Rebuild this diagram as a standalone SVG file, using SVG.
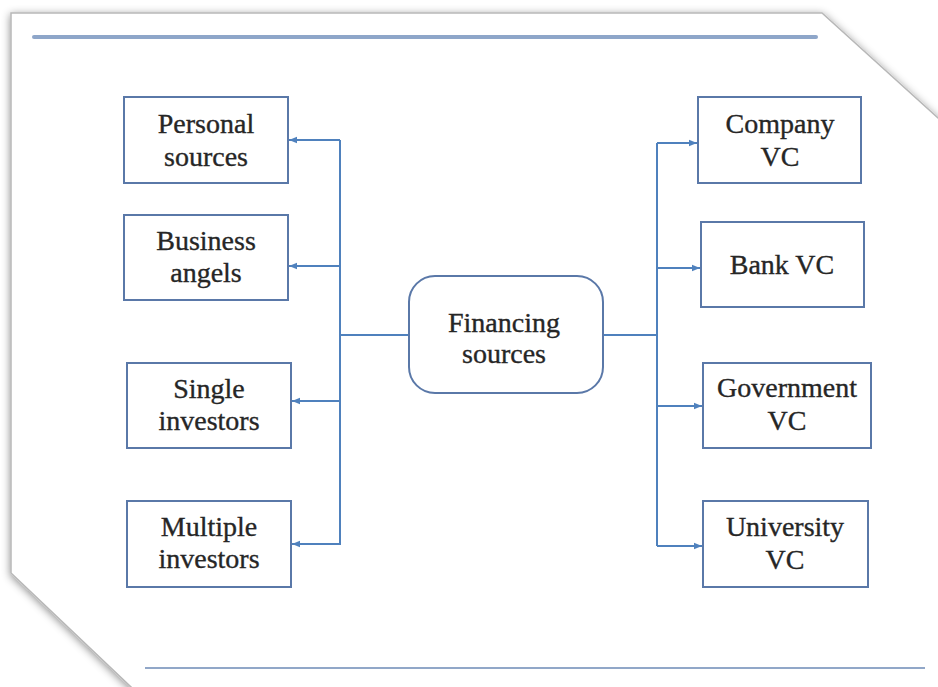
<svg xmlns="http://www.w3.org/2000/svg" width="938" height="687" viewBox="0 0 938 687">
<defs>
<filter id="sh" x="-10%" y="-10%" width="120%" height="120%">
<feDropShadow dx="0" dy="2" stdDeviation="4" flood-color="#000" flood-opacity="0.45"/>
</filter>
<marker id="arr" viewBox="0 0 10 10" refX="10" refY="5" markerWidth="8" markerHeight="8" markerUnits="userSpaceOnUse" orient="auto">
<path d="M0,1 L10,5 L0,9 z" fill="#4f81bd"/>
</marker>
<style>
.box{fill:#fff;stroke:#5a78a8;stroke-width:2}
.t{font-family:'Liberation Serif','Times New Roman',serif;font-size:28px;fill:#262626;stroke:#262626;stroke-width:0.35;text-anchor:middle}
.c{fill:none;stroke:#4f81bd;stroke-width:2}
</style>
</defs>
<rect width="938" height="687" fill="#fff"/>
<polygon points="11,13 822,13 960,138 960,705 150,705 11,573" fill="#fff" stroke="#b8b8b8" stroke-width="1.5" filter="url(#sh)"/>
<line x1="34" y1="37" x2="816" y2="37" stroke="#8ea6c9" stroke-width="4" stroke-linecap="round"/>
<line x1="145" y1="668" x2="925" y2="668" stroke="#6d8ab6" stroke-width="1.5"/>

<g id="connectors">
<path class="c" d="M409,335 H340 M340,140 V545"/>
<path class="c" d="M340,140 H289" marker-end="url(#arr)"/>
<path class="c" d="M340,266 H289" marker-end="url(#arr)"/>
<path class="c" d="M340,401 H292" marker-end="url(#arr)"/>
<path class="c" d="M340,544 H292" marker-end="url(#arr)"/>
<path class="c" d="M603,335 H657 M657,143 V546"/>
<path class="c" d="M657,143 H697" marker-end="url(#arr)"/>
<path class="c" d="M657,268 H700" marker-end="url(#arr)"/>
<path class="c" d="M657,406 H702" marker-end="url(#arr)"/>
<path class="c" d="M657,546 H702" marker-end="url(#arr)"/>
</g>

<g id="personal"><rect class="box" x="124" y="97" width="164" height="86"/>
<text class="t" x="206" y="133">Personal</text><text class="t" x="206" y="166">sources</text></g>
<g id="business"><rect class="box" x="124" y="215" width="164" height="85"/>
<text class="t" x="206" y="250">Business</text><text class="t" x="206" y="282">angels</text></g>
<g id="single"><rect class="box" x="127" y="363" width="164" height="85"/>
<text class="t" x="209" y="398">Single</text><text class="t" x="209" y="430">investors</text></g>
<g id="multiple"><rect class="box" x="127" y="501" width="164" height="86"/>
<text class="t" x="209" y="536">Multiple</text><text class="t" x="209" y="568">investors</text></g>

<g id="financing"><rect class="box" x="409" y="276" width="194" height="117" rx="26"/>
<text class="t" x="504" y="332">Financing</text><text class="t" x="504" y="363">sources</text></g>

<g id="company"><rect class="box" x="698" y="97" width="163" height="86"/>
<text class="t" x="780" y="133">Company</text><text class="t" x="780" y="166">VC</text></g>
<g id="bank"><rect class="box" x="701" y="222" width="163" height="85"/>
<text class="t" x="782" y="274">Bank VC</text></g>
<g id="government"><rect class="box" x="703" y="363" width="168" height="85"/>
<text class="t" x="787" y="397">Government</text><text class="t" x="787" y="430">VC</text></g>
<g id="university"><rect class="box" x="703" y="501" width="165" height="86"/>
<text class="t" x="785" y="536">University</text><text class="t" x="785" y="569">VC</text></g>
</svg>
